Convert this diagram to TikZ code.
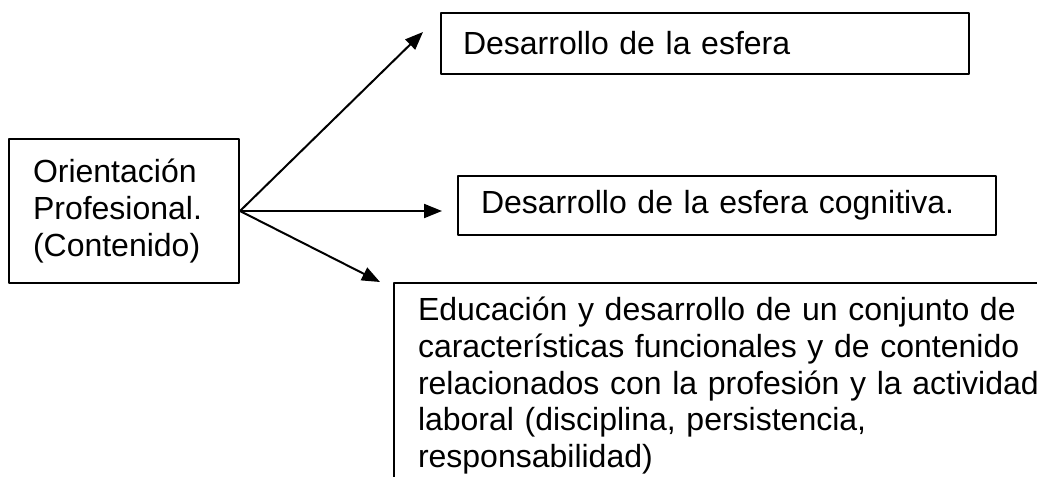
\documentclass[tikz,border=0pt]{standalone}
\usepackage{fontspec}
\setmainfont{Liberation Sans}
\usetikzlibrary{arrows.meta}
\tikzset{
  every picture/.style={line join=round, line cap=round, >={Triangle[length=9pt,width=7pt]}},
  caja/.style={draw, line width=1pt, align=left, anchor=north west, font=\fontsize{16}{18.4}\selectfont},
  flecha/.style={->, line width=1pt},
}
\begin{document}
\begin{tikzpicture}[x=0.5pt,y=-0.5pt]
\useasboundingbox (0,0) rectangle (1037,476);
\clip (0,0) rectangle (1037,476);
\node[caja, inner xsep=12pt, text width=91pt, minimum height=72pt] (izq) at (8,138)
  {Orientación\\Profesional.\\(Contenido)};
\node[caja, inner xsep=11pt, text width=242pt, minimum height=30.5pt] (sup) at (440,12)
  {Desarrollo de la esfera};
\node[caja, inner xsep=11.5pt, text width=246pt, minimum height=29.5pt] (med) at (457,175)
  {Desarrollo de la esfera cognitiva.};
\node[caja, inner xsep=12pt, inner ysep=7pt, text width=320pt] (inf) at (393,282)
  {Educación y desarrollo de un conjunto de\\
   características funcionales y de contenido\\
   relacionados con la profesión y la actividad\\
   laboral (disciplina, persistencia,\\
   responsabilidad)};
\coordinate (puntaA) at (423,32);
\coordinate (puntaB) at ([xshift=101pt]izq.east);
\coordinate (puntaC) at ([xshift=-6.5pt]inf.north west);
\draw[flecha] (izq.east) -- (puntaA);
\draw[flecha] (izq.east) -- (puntaB);
\draw[flecha] (izq.east) -- (puntaC);
\end{tikzpicture}
\end{document}
